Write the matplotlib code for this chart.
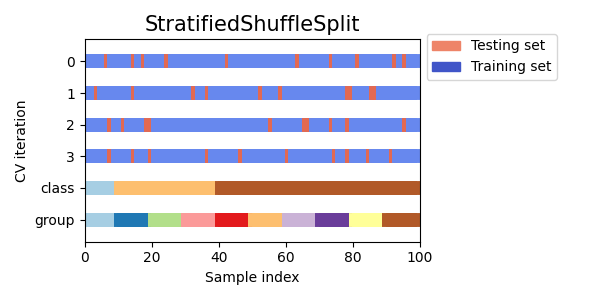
import numpy as np
import matplotlib
matplotlib.use("Agg")
import matplotlib.pyplot as plt
from matplotlib.patches import Patch

# test indices per CV split
test_idx = [
    [7, 15, 18, 25, 43, 64, 74, 82, 93, 96],
    [4, 15, 33, 37, 53, 59, 79, 80, 86, 87],
    [8, 12, 19, 20, 56, 66, 67, 74, 79, 96],
    [8, 15, 20, 37, 47, 61, 75, 79, 85, 92],
]
n_samples = 100
class_sizes = [10, 30, 60]
group_sizes = [10] * 10
split_labels = ["0", "1", "2", "3"]

classes = np.hstack([[i] * n for i, n in enumerate(class_sizes)])
groups = np.hstack([[i] * n for i, n in enumerate(group_sizes)])

cmap_data = plt.cm.Paired
cmap_cv = plt.cm.coolwarm
lw = 10

fig, ax = plt.subplots(figsize=(6, 3), dpi=100)

n_splits = len(test_idx)
for ii, tt in enumerate(test_idx):
    indices = np.zeros(n_samples)
    indices[tt] = 1
    ax.scatter(range(n_samples), [ii + 0.5] * n_samples, c=indices,
               marker="_", lw=lw, cmap=cmap_cv, vmin=-0.2, vmax=1.2)

ax.scatter(range(n_samples), [n_splits + 0.5] * n_samples, c=classes,
           marker="_", lw=lw, cmap=cmap_data)
ax.scatter(range(n_samples), [n_splits + 1.5] * n_samples, c=groups,
           marker="_", lw=lw, cmap=cmap_data)

ax.set(yticks=np.arange(n_splits + 2) + 0.5,
       yticklabels=split_labels + ["class", "group"],
       xlabel="Sample index", ylabel="CV iteration",
       ylim=[n_splits + 2.2, -0.2], xlim=[0, 100])
ax.set_title("StratifiedShuffleSplit", fontsize=15)

ax.legend([Patch(color=cmap_cv(0.8)), Patch(color=cmap_cv(0.02))],
          ["Testing set", "Training set"], loc=(1.02, 0.8))

plt.tight_layout()
fig.subplots_adjust(right=0.7)
fig.savefig("out.png")
